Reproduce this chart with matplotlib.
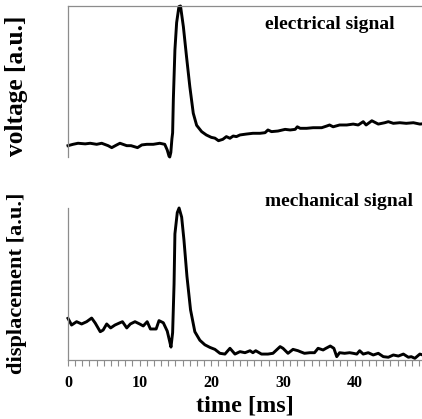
import numpy as np
import matplotlib
matplotlib.use('Agg')
import matplotlib.pyplot as plt
from matplotlib.ticker import MultipleLocator

plt.rcParams['font.family'] = 'Liberation Serif'
plt.rcParams['font.weight'] = 'bold'

# electrical signal (voltage, a.u.)
time_el = [0, 0.7, 1.4, 2.4, 3.1, 4.0, 4.7, 5.6, 6.1, 6.8, 7.25, 8.2, 8.8, 9.7,
           10.3, 11.0, 11.9, 12.8, 13.5, 13.85, 14.1, 14.2, 14.35, 14.5, 14.6,
           14.7, 14.92, 15.16, 15.48, 15.7, 16.1, 16.55, 17.0, 17.48, 17.95, 18.65,
           19.3, 20.0, 20.5, 21.0, 21.6, 22.1, 22.6, 23.05, 23.5, 24.0, 24.9,
           25.8, 26.8, 27.5, 27.9, 28.4, 29.3, 30.3, 31.0, 31.7, 32.0, 32.4,
           33.3, 34.2, 35.4, 36.1, 36.5, 37.0, 37.9, 38.9, 39.8, 40.5, 41.2,
           41.6, 42.4, 43.3, 44.2, 44.7, 45.4, 46.3, 47.2, 48.2, 49.1, 49.5]
voltage = [0.075, 0.084, 0.091, 0.087, 0.091, 0.084, 0.091, 0.075, 0.062, 0.080,
           0.091, 0.075, 0.075, 0.062, 0.080, 0.084, 0.084, 0.091, 0.084, 0.046,
           0.005, 0.0, 0.03, 0.12, 0.16, 0.38, 0.71, 0.89, 0.996, 1.0, 0.863, 0.66,
           0.466, 0.29, 0.21, 0.168, 0.146, 0.13, 0.125, 0.108, 0.117, 0.135,
           0.124, 0.139, 0.135, 0.146, 0.152, 0.157, 0.157, 0.161, 0.179, 0.168,
           0.172, 0.183, 0.179, 0.183, 0.2, 0.19, 0.19, 0.194, 0.194, 0.205,
           0.212, 0.2, 0.212, 0.212, 0.218, 0.212, 0.234, 0.212, 0.24, 0.218,
           0.227, 0.234, 0.223, 0.227, 0.223, 0.227, 0.218, 0.22]

# mechanical signal (displacement, a.u.)
time_me = [0, 0.5, 1.2, 1.9, 2.6, 3.3, 3.8, 4.5, 4.9, 5.4, 5.95, 6.55, 7.25, 7.6,
           8.2, 8.7, 9.35, 10.0, 10.5, 11.05, 11.5, 12.3, 12.7, 13.3, 13.85,
           14.2, 14.37, 14.6, 14.8, 14.92, 15.25, 15.5, 15.86, 16.18, 16.6,
           17.1, 17.7, 18.4, 19.1, 19.8, 20.5, 21.2, 21.9, 22.6, 23.3, 24.0, 24.7,
           25.4, 25.8, 26.2, 27.0, 27.9, 28.6, 29.6, 30.0, 30.7, 31.4, 32.1,
           32.4, 33.0, 33.75, 34.4, 34.9, 35.6, 36.0, 36.6, 37.1, 37.5, 37.9,
           38.6, 39.3, 39.8, 40.3, 40.7, 41.2, 41.9, 42.6, 43.3, 44.0, 44.7,
           45.4, 46.1, 46.8, 47.5, 47.9, 48.4, 49.1, 49.5]
displacement = [0.274, 0.230, 0.252, 0.237, 0.252, 0.276, 0.243, 0.186, 0.197,
                0.237, 0.211, 0.230, 0.245, 0.252, 0.211, 0.237, 0.252, 0.237,
                0.224, 0.252, 0.204, 0.204, 0.259, 0.245, 0.19, 0.12, 0.085,
                0.18, 0.5, 0.83, 0.97, 1.0, 0.94, 0.79, 0.55, 0.33, 0.186, 0.13,
                0.1, 0.083, 0.07, 0.044, 0.039, 0.077, 0.039, 0.055, 0.048, 0.061,
                0.048, 0.061, 0.039, 0.039, 0.044, 0.088, 0.077, 0.044, 0.07,
                0.061, 0.055, 0.044, 0.048, 0.048, 0.077, 0.066, 0.077, 0.092,
                0.077, 0.022, 0.048, 0.044, 0.048, 0.044, 0.039, 0.061, 0.039,
                0.048, 0.033, 0.044, 0.022, 0.018, 0.033, 0.026, 0.039, 0.018,
                0.022, 0.011, 0.039, 0.033]

assert len(time_el) == len(voltage)
assert len(time_me) == len(displacement)

spine_col = '#8c8c8c'

fig = plt.figure(figsize=(4.22, 4.19), dpi=100)
ax1 = fig.add_axes([68 / 422, 1 - 157 / 419, 1 - 68 / 422, 151 / 419])
ax2 = fig.add_axes([68 / 422, 1 - 360 / 419, 1 - 68 / 422, 152 / 419])

ax1.plot(time_el, voltage, color='black', lw=2.1, clip_on=False,
         solid_joinstyle='round')
ax2.plot(time_me, displacement, color='black', lw=2.1, clip_on=False,
         solid_joinstyle='round')

for ax in (ax1, ax2):
    ax.set_xlim(0, 49.4)
    ax.set_ylim(0, 1.0)
    ax.set_yticks([])
    ax.spines['right'].set_visible(False)
    for s in ax.spines.values():
        s.set_color(spine_col)
        s.set_linewidth(0.9)

ax1.spines['bottom'].set_visible(False)
ax1.set_xticks([])
ax2.spines['top'].set_visible(False)

ax2.xaxis.set_major_locator(MultipleLocator(10))
ax2.xaxis.set_minor_locator(MultipleLocator(1))
ax2.tick_params(axis='x', which='both', direction='out', length=4,
                width=0.8, color=spine_col, pad=7, labelsize=11.5)
for lab in ax2.get_xticklabels():
    lab.set_fontweight('bold')

ax2.set_xlabel('time [ms]', fontsize=17.5, fontweight='bold', labelpad=3)

fig.text(17 / 422, 1 - 86 / 419, 'voltage [a.u.]', rotation=90, fontsize=18.3,
         fontweight='bold', ha='center', va='center')
fig.text(17 / 422, 1 - 283 / 419, 'displacement [a.u.]', rotation=90,
         fontsize=16.1, fontweight='bold', ha='center', va='center')

fig.text(265 / 422, 1 - 29 / 419, 'electrical signal', fontsize=14,
         fontweight='bold', ha='left', va='baseline')
fig.text(265 / 422, 1 - 206 / 419, 'mechanical signal', fontsize=14,
         fontweight='bold', ha='left', va='baseline')

fig.savefig('out.png', dpi=100)
